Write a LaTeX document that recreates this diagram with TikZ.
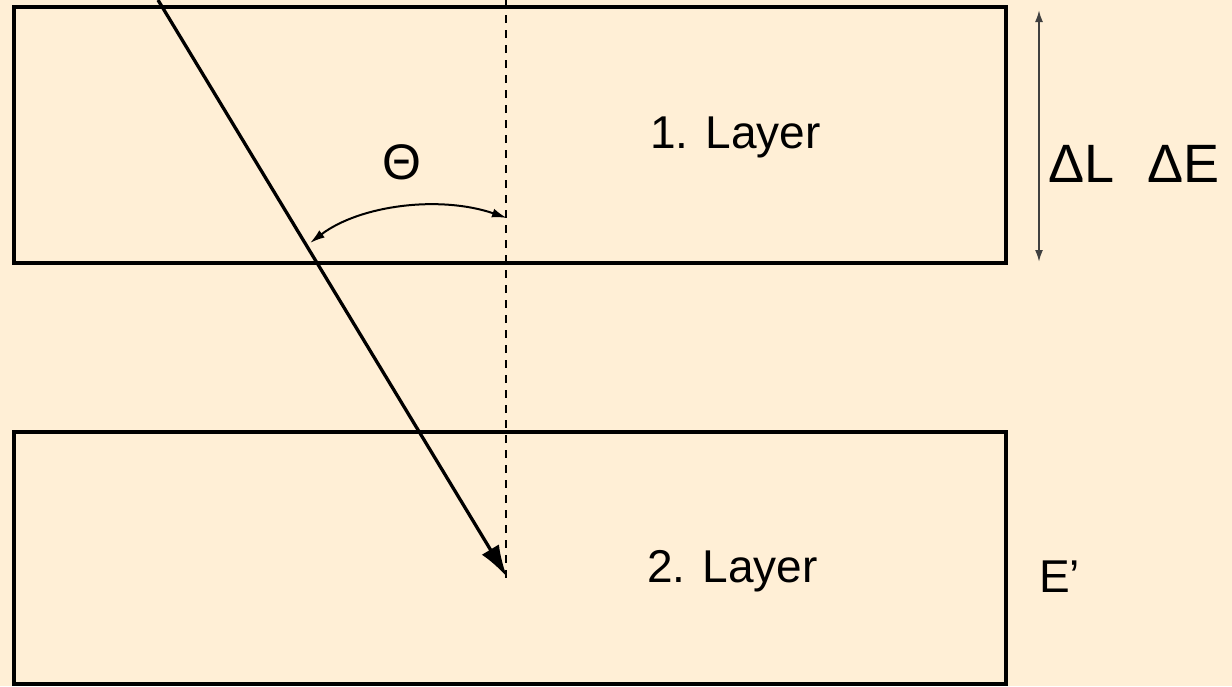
\documentclass[tikz,border=0pt]{standalone}
\usepackage{fontspec}
\setmainfont{Liberation Sans}
\usetikzlibrary{arrows.meta}
\definecolor{cream}{HTML}{FFEFD6}
\tikzset{
  layerbox/.style={draw=black, line width=3.5pt, fill=cream, rectangle, inner sep=0pt, outer sep=0pt},
  bigtext/.style={anchor=base west, inner sep=0pt, font=\fontsize{46}{46}\selectfont},
  deltatext/.style={anchor=base west, inner sep=0pt, font=\fontsize{54}{54}\selectfont},
  ray/.style={line width=3.3pt, -{Latex[length=32pt,width=20pt]}},
  normal/.style={line width=2.2pt, dash pattern=on 8pt off 7pt},
  anglearc/.style={line width=2pt, {Latex[length=15pt,width=9pt]}-{Latex[length=15pt,width=9pt]}},
  dimarrow/.style={line width=2pt, draw=black!75, {Latex[length=12pt,width=8pt]}-{Latex[length=12pt,width=8pt]}}
}
\begin{document}
\begin{tikzpicture}[x=1pt,y=-1pt]
\fill[cream] (0,0) rectangle (1232,686);
\useasboundingbox (0,0) rectangle (1232,686);
\node[layerbox, minimum width=992pt, minimum height=256pt] (layer1) at (510,135) {};
\node[layerbox, minimum width=992pt, minimum height=252pt] (layer2) at (510,558) {};
\coordinate (ntop) at (506,0);
\coordinate (nbot) at (506,578);
\coordinate (rstart) at (158,0);
\coordinate (rtip) at (507,577);
\coordinate (arcR) at (507,218);
\coordinate (arcL) at (310,243);
\coordinate (dtop) at (1039,10);
\coordinate (dbot) at (1039,262);
\draw[normal] (ntop) -- (nbot);
\draw[ray] (rstart) -- (rtip);
\draw[anglearc] (arcR) .. controls (440,195) and (360,205) .. (arcL);
\draw[dimarrow] (dtop) -- (dbot);
\node[anchor=center, inner sep=0pt, font=\fontsize{50}{50}\selectfont] (theta) at (402,162) {Θ};
\node[bigtext] (l1) at (650,148) {1. Layer};
\node[bigtext] (l2) at (647,582) {2. Layer};
\node[bigtext] (ep) at (1039,592) {E'};
\node[deltatext] (dl) at (1048,182) {ΔL};
\node[deltatext] (de) at (1147,182) {ΔE};
\end{tikzpicture}
\end{document}
